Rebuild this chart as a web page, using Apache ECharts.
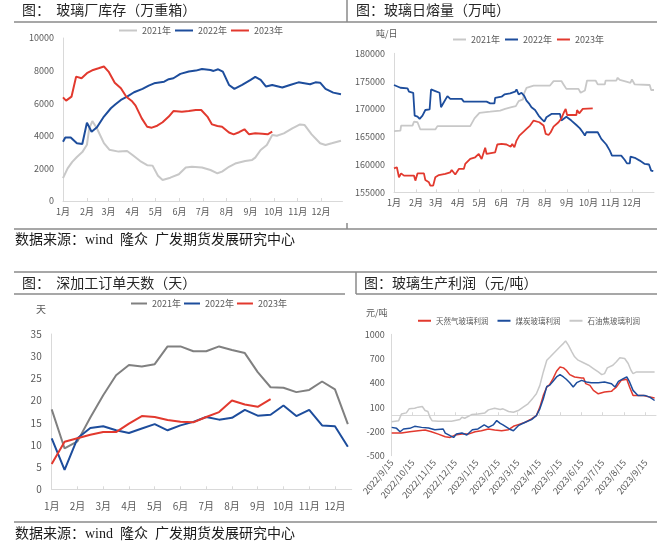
<!DOCTYPE html>
<html><head><meta charset="utf-8">
<script src="https://cdn.jsdelivr.net/npm/echarts@6/dist/echarts.min.js"></script>
<style>html,body{margin:0;padding:0;background:#fff}#c{width:670px;height:547px}</style>
</head><body><div id="c"></div>
<script>
// ---------- tick labels ----------
const monthLabels = ['1月','2月','3月','4月','5月','6月','7月','8月','9月','10月','11月','12月'];
const monthStartDays = [0,31,59,90,120,151,181,212,243,273,304,334];
const halfMonthTicks = [0,2,4,6,8,10,12,14,16,18,20,22];
const profitTickDays = [0,30,61,91,122,153,181,212,242,273,303,334,365];
const profitTickLabels = ['2022/9/15','2022/10/15','2022/11/15','2022/12/15','2023/1/15','2023/2/15','2023/3/15','2023/4/15','2023/5/15','2023/6/15','2023/7/15','2023/8/15','2023/9/15'];
const yearNames = ['2021年','2022年','2023年'];
const profitNames = ['天然气玻璃利润','煤炭玻璃利润','石油焦玻璃利润'];

// ---------- panel 1: 玻璃厂库存 (day of year, 万重箱) ----------
const inv2021 = [[0,1400],[6,2000],[12,2400],[18,2700],[25,3000],[31,3450],[34,4450],[38,4900],[44,4450],[53,3550],[60,3150],[72,3030],[83,3070],[90,2820],[100,2450],[109,2200],[116,2170],[123,1550],[129,1290],[139,1430],[150,1640],[159,2050],[167,2100],[180,2050],[191,1900],[200,1700],[206,1800],[215,2100],[223,2300],[236,2450],[245,2520],[249,2660],[256,3130],[264,3440],[271,4050],[277,4000],[286,4150],[297,4460],[307,4700],[313,4660],[322,4090],[333,3540],[340,3440],[348,3540],[360,3700]];
const inv2022 = [[0,3640],[3,3900],[10,3890],[18,3540],[25,3500],[31,4810],[37,4250],[44,4520],[53,5180],[62,5690],[68,5930],[75,6200],[83,6400],[92,6670],[103,6880],[111,7080],[118,7220],[131,7320],[137,7470],[143,7530],[152,7800],[163,7940],[172,8000],[180,8100],[191,8040],[195,7980],[201,8080],[207,7940],[215,7120],[222,6880],[232,7120],[243,7430],[249,7610],[256,7430],[263,7020],[271,7120],[284,6960],[294,7120],[305,7280],[320,7160],[327,7280],[333,7260],[340,6880],[350,6650],[360,6550]];
const inv2023 = [[0,6360],[4,6160],[11,6400],[17,7630],[24,7530],[31,7840],[39,8040],[46,8140],[53,8250],[59,7940],[67,7260],[75,6920],[82,6400],[89,6140],[94,5850],[102,5070],[109,4560],[115,4500],[122,4620],[129,4830],[137,5180],[143,5520],[154,5480],[163,5520],[172,5580],[179,5580],[187,5180],[193,4700],[200,4600],[206,4560],[215,4200],[221,4090],[228,4220],[235,4400],[241,4090],[249,4150],[258,4130],[265,4090],[271,4250]];

// ---------- panel 2: 玻璃日熔量 (day of year, 吨/日) ----------
const melt2021 = [[0,166000],[9,166100],[10,167000],[26,167000],[28,167700],[33,167600],[37,166300],[58,166300],[61,166900],[107,166900],[113,168300],[120,169300],[135,169500],[149,169700],[156,170000],[165,170300],[171,170500],[175,171400],[181,171700],[183,172900],[186,173800],[196,174200],[219,174200],[224,175000],[235,175000],[238,174400],[242,173600],[259,173600],[262,172900],[268,173300],[271,175100],[283,175100],[286,174400],[296,174400],[297,175100],[312,175100],[314,175600],[317,175200],[326,174900],[332,174700],[334,175300],[338,174400],[359,174300],[361,173400],[365,173400]];
const melt2022 = [[0,174300],[9,173800],[19,173700],[21,173100],[27,172900],[29,168800],[33,168600],[36,168200],[40,168800],[44,169800],[50,169900],[52,173500],[58,173200],[64,172900],[66,170300],[70,171200],[75,172300],[79,171800],[95,171800],[98,171300],[130,171300],[135,171000],[141,171000],[142,172000],[151,172200],[155,172600],[163,172800],[170,173100],[172,173500],[175,172600],[179,172900],[183,172300],[186,171500],[190,170900],[193,170300],[198,169800],[203,168800],[207,168200],[211,167700],[214,168500],[221,169100],[233,169100],[235,167900],[242,168600],[249,167900],[256,167100],[261,166500],[265,165800],[268,165200],[270,165800],[286,165800],[291,164600],[298,163600],[303,162500],[306,161600],[319,161600],[324,160800],[327,160200],[331,160200],[332,161400],[338,161200],[345,160700],[352,160100],[358,160000],[361,158900],[364,158800]];
const melt2023 = [[0,159300],[4,159500],[7,157700],[10,158400],[14,158000],[28,158000],[30,157100],[33,158400],[42,158400],[44,157200],[49,156800],[51,156200],[55,156200],[58,157700],[63,158100],[72,158300],[79,158600],[81,159000],[86,158200],[91,159200],[98,159200],[100,160100],[107,161000],[114,161300],[119,161900],[123,161000],[128,163000],[130,161900],[142,162200],[145,163600],[151,163700],[158,163600],[164,163200],[166,163700],[169,163100],[172,164300],[176,165200],[182,165900],[186,166400],[191,167000],[196,167900],[198,168200],[204,167600],[210,167000],[213,165500],[217,165300],[220,165800],[224,166800],[231,167600],[235,168300],[239,169500],[241,170000],[243,168900],[256,168900],[257,169800],[260,169200],[265,170000],[279,170100]];

// ---------- panel 3: 深加工订单天数 (half-month slots, 天) ----------
const order2021 = [18.0,9.2,10.8,16.2,21.2,25.7,28.0,27.7,28.2,32.2,32.2,31.1,31.1,32.2,31.4,30.7,26.4,23.0,22.9,21.9,22.4,24.3,22.5,14.7];
const order2022 = [11.5,4.4,11.5,13.8,14.2,13.3,12.7,13.7,14.7,13.3,14.4,15.2,16.3,15.7,16.1,17.9,16.6,16.8,18.9,16.5,17.9,14.4,14.2,9.6];
const order2023 = [5.7,10.7,11.5,12.3,12.9,12.9,14.8,16.5,16.3,15.6,15.2,15.1,16.3,17.4,20.0,19.1,18.6,20.3];

// ---------- panel 4: 玻璃生产利润 (days since 2022/9/15, 元/吨) ----------
const gasProfit = [[0,-220],[14,-220],[26,-204],[38,-191],[48,-183],[57,-204],[67,-233],[77,-266],[84,-274],[91,-245],[101,-233],[110,-233],[120,-204],[129,-191],[139,-170],[148,-183],[158,-191],[168,-179],[175,-137],[182,-116],[192,-87],[201,-46],[208,-4],[213,100],[218,245],[223,348],[227,378],[232,452],[237,543],[242,597],[247,585],[251,556],[256,502],[263,473],[273,460],[276,460],[279,390],[285,369],[290,307],[297,265],[306,286],[316,295],[319,320],[323,348],[330,431],[338,444],[342,348],[347,245],[354,245],[362,245],[371,224],[378,212]];
const coalProfit = [[0,-150],[7,-162],[12,-204],[17,-170],[26,-162],[33,-137],[43,-150],[53,-158],[62,-179],[74,-170],[77,-220],[84,-253],[89,-274],[93,-233],[101,-220],[108,-245],[116,-179],[124,-170],[133,-120],[139,-150],[146,-120],[151,-66],[156,-100],[160,-120],[169,-170],[175,-191],[182,-129],[192,-87],[201,-54],[208,-4],[213,79],[218,203],[223,357],[227,369],[232,419],[237,473],[242,502],[247,473],[251,444],[256,402],[261,348],[266,402],[273,431],[280,411],[287,402],[297,402],[306,411],[316,390],[321,348],[326,419],[333,452],[338,473],[342,411],[347,307],[354,245],[364,245],[371,224],[378,182]];
const petcokeProfit = [[0,-80],[10,-67],[14,16],[21,29],[25,79],[33,87],[38,100],[44,108],[48,58],[52,46],[55,-25],[58,-67],[67,-75],[86,-75],[98,-54],[101,-25],[105,-37],[115,8],[124,16],[134,29],[139,66],[148,87],[156,70],[160,79],[168,46],[175,37],[182,58],[189,100],[196,141],[203,211],[208,265],[213,369],[218,535],[223,680],[228,722],[235,784],[242,846],[247,888],[250,917],[254,867],[259,784],[263,722],[268,680],[275,651],[283,618],[290,577],[297,535],[302,502],[306,514],[310,585],[318,618],[323,660],[328,710],[335,701],[340,639],[344,556],[347,514],[352,535],[359,535],[378,535]];
const profitYTicks = [-500,-200,100,400,700,1000];

// ---------- styles ----------
const BLUE = '#1d4d9c', RED = '#e2392e', LGRAY = '#c8c8c8', DGRAY = '#808080';
const AXIS = '#d9d9d9', LBL = '#595959';
const NUMFONT = "'Liberation Sans Narrow','Noto Sans CJK SC',sans-serif";
const CJK = "'Noto Sans CJK SC',sans-serif";
const plain = v => String(v);

function xAxisCustom(grid, min, max, vals, fmt, extra) {
  return Object.assign({
    type: 'value', gridIndex: grid, min: min, max: max,
    axisLine: {show: true, lineStyle: {color: AXIS, width: 1}},
    axisTick: {show: true, inside: true, length: 3, customValues: vals, lineStyle: {color: AXIS}},
    axisLabel: {customValues: vals, formatter: fmt, color: LBL, fontSize: 9, fontFamily: NUMFONT, margin: 6},
    splitLine: {show: false}
  }, extra || {});
}
function yAxisBasic(grid, min, max, interval, extra) {
  return Object.assign({
    type: 'value', gridIndex: grid, min: min, max: max, interval: interval,
    axisLine: {show: true, lineStyle: {color: AXIS, width: 1}},
    axisTick: {show: false},
    axisLabel: {color: LBL, fontSize: 9, fontFamily: NUMFONT, margin: 9, formatter: plain},
    splitLine: {show: false}
  }, extra || {});
}
function line(name, data, color, xi, width) {
  return {name: name, type: 'line', xAxisIndex: xi, yAxisIndex: xi, data: data,
    showSymbol: false, symbol: 'none', smooth: false,
    lineStyle: {color: color, width: width}, itemStyle: {color: color}, z: 3};
}
const monthFmt = v => monthLabels[monthStartDays.indexOf(v)];

function hline(x1, x2, y, w) { return {type: 'line', shape: {x1: x1, y1: y, x2: x2, y2: y}, style: {stroke: '#8a8a8a', lineWidth: w || 1.5}}; }
function vline(x, y1, y2) { return {type: 'line', shape: {x1: x, y1: y1, x2: x, y2: y2}, style: {stroke: '#8a8a8a', lineWidth: 1.5}}; }
function txt(t, left, top, size, color, font) {
  return {type: 'text', left: left, top: top, style: {text: t, fontSize: size, fill: color || '#262626', fontFamily: font || CJK}};
}
const legendBase = {icon: 'rect', itemHeight: 2, padding: 0, orient: 'horizontal', width: 300, textStyle: {fontSize: 9, color: LBL, fontFamily: NUMFONT}, selectedMode: false};

const chart = echarts.init(document.getElementById('c'), null, {renderer: 'canvas'});
chart.setOption({
  animation: false,
  backgroundColor: '#fff',
  grid: [
    {left: 63, top: 38, width: 279.5, height: 163},
    {left: 394, top: 53.3, width: 260, height: 139},
    {left: 51.7, top: 334, width: 300, height: 155.3},
    {left: 391.7, top: 334.3, width: 264.3, height: 121.4}
  ],
  xAxis: [
    xAxisCustom(0, 0, 362, monthStartDays, monthFmt),
    xAxisCustom(1, 0, 365, monthStartDays, monthFmt),
    xAxisCustom(2, 0, 23.3, halfMonthTicks, v => monthLabels[v / 2], {axisLabel: {customValues: halfMonthTicks, formatter: v => monthLabels[v / 2], color: LBL, fontSize: 10, fontFamily: NUMFONT, margin: 12}}),
    xAxisCustom(3, 0, 380, profitTickDays, v => profitTickLabels[profitTickDays.indexOf(v)], {axisLabel: {customValues: profitTickDays, formatter: v => profitTickLabels[profitTickDays.indexOf(v)], rotate: 50, color: LBL, fontSize: 9, fontFamily: NUMFONT, margin: 5}})
  ],
  yAxis: [
    yAxisBasic(0, 0, 10000, 2000),
    yAxisBasic(1, 155000, 180000, 5000),
    yAxisBasic(2, 0, 35, 5, {axisLabel: {color: LBL, fontSize: 10, fontFamily: NUMFONT, margin: 10, formatter: plain}}),
    yAxisBasic(3, -500, 1000, null, {interval: undefined, axisLabel: {customValues: profitYTicks, color: LBL, fontSize: 9, fontFamily: NUMFONT, margin: 7, formatter: plain}})
  ],
  legend: [
    Object.assign({}, legendBase, {left: 119, top: 26, itemWidth: 18, itemGap: 4, data: yearNames}),
    Object.assign({}, legendBase, {left: 453, top: 35, itemWidth: 13, itemGap: 5, data: yearNames}),
    Object.assign({}, legendBase, {left: 131, top: 299, itemWidth: 16, itemGap: 3,
      data: [{name: yearNames[0], itemStyle: {color: DGRAY}}, {name: yearNames[1], itemStyle: {color: BLUE}}, {name: yearNames[2], itemStyle: {color: RED}}]}),
    Object.assign({}, legendBase, {left: 418, top: 317, itemWidth: 13, itemGap: 9, width: 260,
      textStyle: {fontSize: 7.5, color: LBL, fontFamily: CJK}, data: profitNames})
  ],
  series: [
    line(yearNames[0], inv2021, LGRAY, 0, 2),
    line(yearNames[1], inv2022, BLUE, 0, 2),
    line(yearNames[2], inv2023, RED, 0, 2),
    line(yearNames[0], melt2021, LGRAY, 1, 1.8),
    line(yearNames[1], melt2022, BLUE, 1, 1.8),
    line(yearNames[2], melt2023, RED, 1, 1.8),
    line(yearNames[0], order2021.map((v, i) => [i, v]), DGRAY, 2, 2),
    line(yearNames[1], order2022.map((v, i) => [i, v]), BLUE, 2, 2),
    line(yearNames[2], order2023.map((v, i) => [i, v]), RED, 2, 2),
    line(profitNames[0], gasProfit, RED, 3, 1.5),
    line(profitNames[1], coalProfit, BLUE, 3, 1.5),
    line(profitNames[2], petcokeProfit, LGRAY, 3, 1.5)
  ],
  graphic: [
    hline(14, 657, 22), vline(347, 0, 22), hline(14, 657, 229), vline(347, 223, 229),
    hline(14, 657, 272), vline(356, 272, 294), hline(14, 345, 294), hline(356, 657, 294), hline(14, 657, 522),
    txt('图：  玻璃厂库存（万重箱）', 22, 3, 14),
    txt('图：玻璃日熔量（万吨）', 356, 3, 14),
    txt('图：  深加工订单天数（天）', 22, 276, 14),
    txt('图：玻璃生产利润（元/吨）', 364, 276, 14),
    txt('吨/日', 376, 29, 9, LBL),
    txt('天', 36, 304, 10, LBL),
    txt('元/吨', 366, 308, 9, LBL),
    txt('数据来源：wind  隆众  广发期货发展研究中心', 15, 233, 14, '#1a1a1a', "'Liberation Serif','Noto Sans CJK SC',serif"),
    txt('数据来源：wind  隆众  广发期货发展研究中心', 15, 527, 14, '#1a1a1a', "'Liberation Serif','Noto Sans CJK SC',serif")
  ]
});
</script>
</body></html>
